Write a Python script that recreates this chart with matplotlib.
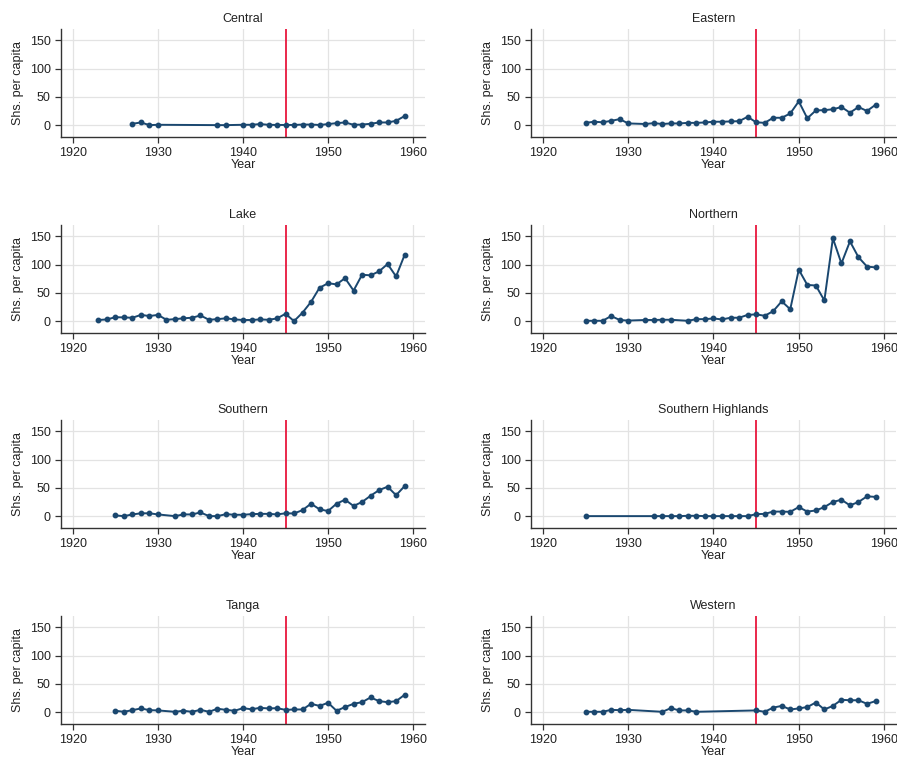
import matplotlib.pyplot as plt

plt.rcParams['font.family'] = ['Liberation Sans', 'DejaVu Sans']

# --- data (Shs. per capita by year) ---
central_years = [1927, 1928, 1929, 1930, 1937, 1938, 1940, 1941, 1942, 1943, 1944, 1945,
                 1946, 1947, 1948, 1949, 1950, 1951, 1952, 1953, 1954, 1955, 1956, 1957, 1958, 1959]
central_vals = [2.4, 4.7, 0, 0.6, 0, 0, 0.6, 0.6, 1.8, 0.6, 0.3, 0.3,
                0.3, 1, 1, 0.3, 1.8, 3.5, 4.7, 0.6, 1, 2.4, 4.7, 4.7, 7.6, 16]

eastern_years = [1925, 1926, 1927, 1928, 1929, 1930, 1932, 1933, 1934, 1935, 1936, 1937,
                 1938, 1939, 1940, 1941, 1942, 1943, 1944, 1945, 1946, 1947, 1948, 1949,
                 1950, 1951, 1952, 1953, 1954, 1955, 1956, 1957, 1958, 1959]
eastern_vals = [4, 6, 5, 7.6, 10.6, 3, 2, 3.5, 2, 3, 3, 4,
                4, 4.7, 6, 6, 6.5, 7, 14.7, 5, 4, 13, 13, 20.6,
                42, 12, 26, 26.5, 28, 32, 22, 32, 25, 36]

lake_years = list(range(1923, 1960))
lake_vals = [2, 3, 7, 6.5, 6, 11, 9, 11, 2.4, 3.5, 5, 6, 10, 2.4, 3.5, 5, 3, 2, 2, 3,
             2.4, 4.7, 13, 0, 15, 34, 59, 67, 65, 76, 54, 82, 81, 88, 101, 79, 117]

northern_years = [1925, 1926, 1927, 1928, 1929, 1930, 1932, 1933, 1934, 1935, 1937, 1938,
                  1939, 1940, 1941, 1942, 1943, 1944, 1945, 1946, 1947, 1948, 1949, 1950,
                  1951, 1952, 1953, 1954, 1955, 1956, 1957, 1958, 1959]
northern_vals = [0.6, 0.6, 0.6, 9, 2, 1, 2, 2, 2.4, 2.4, 0.6, 3.5,
                 3.5, 4.7, 3, 6, 6, 11, 12, 9.4, 17.6, 35, 21, 91,
                 64, 63, 36.5, 146.5, 102, 141, 113, 96.5, 95]

southern_years = [1925, 1926, 1927, 1928, 1929, 1930, 1932, 1933, 1934, 1935, 1936, 1937,
                  1938, 1939, 1940, 1941, 1942, 1943, 1944, 1945, 1946, 1947, 1948, 1949,
                  1950, 1951, 1952, 1953, 1954, 1955, 1956, 1957, 1958, 1959]
southern_vals = [1.2, 0, 3, 5, 5, 3, 0, 3, 3, 6.5, 0, 0,
                 3.5, 2.4, 2.4, 3.5, 4, 4, 3, 5, 4.7, 10.6, 22, 12,
                 9, 22, 29, 18, 25, 36, 46, 52, 37, 53]

shigh_years = [1925, 1933, 1934, 1935, 1936, 1937, 1938, 1939, 1940, 1941, 1942, 1943,
               1944, 1945, 1946, 1947, 1948, 1949, 1950, 1951, 1952, 1953, 1954, 1955,
               1956, 1957, 1958, 1959]
shigh_vals = [0, 0, 0, 0, 0, 0.6, 0.6, 0, 0, 0, 0, 0,
              0, 3.5, 4, 8, 8, 7.6, 16, 8, 10, 16, 25, 29,
              19, 25, 35, 34]

tanga_years = [1925, 1926, 1927, 1928, 1929, 1930, 1932, 1933, 1934, 1935, 1936, 1937,
               1938, 1939, 1940, 1941, 1942, 1943, 1944, 1945, 1946, 1947, 1948, 1949,
               1950, 1951, 1952, 1953, 1954, 1955, 1956, 1957, 1958, 1959]
tanga_vals = [2.4, 0.6, 3.5, 6.5, 3.5, 3, 0.6, 2.4, 0.6, 4, 0.6, 6,
              4, 2.4, 7, 5, 7.6, 6.5, 7, 4, 4.7, 4.7, 14.7, 11,
              16.5, 2.4, 9, 14.7, 17.6, 26, 19.4, 17.6, 19.4, 30.6]

western_years = [1925, 1926, 1927, 1928, 1929, 1930, 1934, 1935, 1936, 1937, 1938, 1945,
                 1946, 1947, 1948, 1949, 1950, 1951, 1952, 1953, 1954, 1955, 1956, 1957,
                 1958, 1959]
western_vals = [0.6, 0.6, 0.6, 4, 3.5, 4, 0.6, 7, 3, 3, 0.6, 3,
                0.6, 8, 11, 4.7, 6.5, 9, 17, 4.7, 11, 21.8, 21, 21,
                14.7, 19.4]

regions = ["Central", "Eastern", "Lake", "Northern",
           "Southern", "Southern Highlands", "Tanga", "Western"]
series = [(central_years, central_vals), (eastern_years, eastern_vals),
          (lake_years, lake_vals), (northern_years, northern_vals),
          (southern_years, southern_vals), (shigh_years, shigh_vals),
          (tanga_years, tanga_vals), (western_years, western_vals)]

x_ticks = [1920, 1930, 1940, 1950, 1960]
y_ticks = [0, 50, 100, 150]
break_year = 1945

line_col = "#1a476f"
red_col = "#e8173d"
axis_col = "#333333"

fig = plt.figure(figsize=(8.97, 7.61), dpi=100)

col_x = [61 / 897, 531 / 897]
col_w = [364 / 897, 365 / 897]
row_bottom = [137, 333, 528, 724]
ax_h = 108 / 761

for i, (name, (yrs, vals)) in enumerate(zip(regions, series)):
    r, c = divmod(i, 2)
    ax = fig.add_axes([col_x[c], 1 - row_bottom[r] / 761, col_w[c], ax_h])
    ax.set_xlim(1918.6, 1961.4)
    ax.set_ylim(-21, 170)
    ax.set_xticks(x_ticks)
    ax.set_yticks(y_ticks)
    ax.grid(True, color="#e3e3e3", linewidth=0.9)
    ax.set_axisbelow(True)
    for s in ["top", "right"]:
        ax.spines[s].set_visible(False)
    for s in ["left", "bottom"]:
        ax.spines[s].set_color(axis_col)
        ax.spines[s].set_linewidth(1.0)
    ax.tick_params(colors=axis_col, labelcolor="#222222", labelsize=9, length=4, width=0.9)
    ax.axvline(break_year, color=red_col, linewidth=1.3, zorder=2)
    ax.plot(yrs, vals, color=line_col, linewidth=1.4, marker="o", markersize=3.2, zorder=3)
    ax.set_title(name, fontsize=9, color="#222222", pad=5)
    ax.set_xlabel("Year", fontsize=9, color="#222222", labelpad=0)
    ax.set_ylabel("Shs. per capita", fontsize=9, color="#222222", labelpad=4)

fig.savefig("out.png", dpi=100)
